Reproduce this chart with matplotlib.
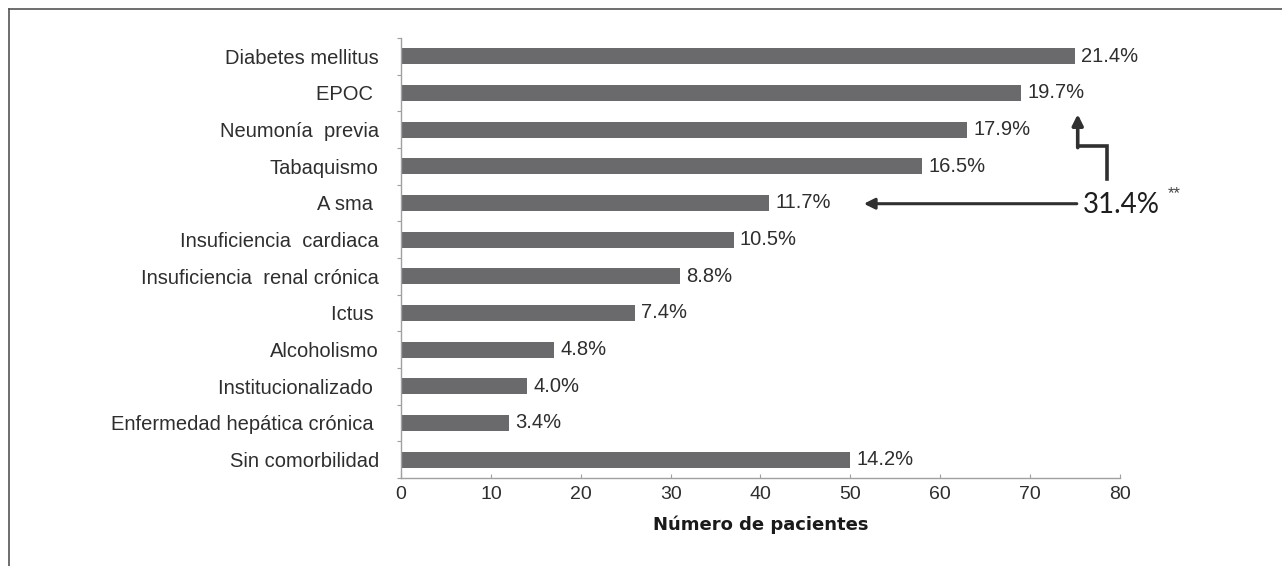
import matplotlib
matplotlib.use("Agg")
import matplotlib.pyplot as plt
from matplotlib.lines import Line2D

# Comorbidities, number of patients and share of the cohort
categories = ["Diabetes mellitus", "EPOC ", "Neumonía  previa", "Tabaquismo",
              "A sma ", "Insuficiencia  cardiaca", "Insuficiencia  renal crónica",
              "Ictus ", "Alcoholismo", "Institucionalizado ",
              "Enfermedad hepática crónica ", "Sin comorbilidad"]
patients = [75, 69, 63, 58, 41, 37, 31, 26, 17, 14, 12, 50]
percent_labels = ["21.4%", "19.7%", "17.9%", "16.5%", "11.7%", "10.5%",
                  "8.8%", "7.4%", "4.8%", "4.0%", "3.4%", "14.2%"]
x_ticks = [0, 10, 20, 30, 40, 50, 60, 70, 80]
combined_label = "31.4%"

bar_color = "#6a6a6c"
text_color = "#2e2e2e"
axis_color = "#a0a0a0"

fig = plt.figure(figsize=(12.82, 5.66), dpi=100)
ax = fig.add_axes([0.3128, 0.1555, 0.8736 - 0.3128, 0.9329 - 0.1555])

y = list(range(len(categories)))
ax.barh(y, patients, height=0.43, color=bar_color, edgecolor="none")

ax.set_xlim(0, 80)
ax.set_ylim(len(categories) - 0.55, -0.5)
ax.set_xticks(x_ticks)
ax.set_xticklabels([str(t) for t in x_ticks], fontsize=14, color=text_color,
                   family="Liberation Sans")
ax.set_yticks(y)
ax.set_yticklabels(categories, fontsize=14.5, color=text_color,
                   family="Liberation Sans")
ax.set_yticks([i + 0.5 for i in range(-1, len(categories))], minor=True)
ax.tick_params(axis="y", which="major", length=0, pad=16)
ax.tick_params(axis="y", which="minor", length=3, color=axis_color, width=0.8)
ax.tick_params(axis="x", length=3, color=axis_color, width=0.8, pad=6,
               direction="in")

for side in ["top", "right"]:
    ax.spines[side].set_visible(False)
for side in ["left", "bottom"]:
    ax.spines[side].set_color(axis_color)
    ax.spines[side].set_linestyle((0, (2, 1)))
    ax.spines[side].set_linewidth(1.0)

# value labels next to each bar
for yi, val, lab in zip(y, patients, percent_labels):
    ax.text(val + 0.7, yi, lab, va="center", ha="left", fontsize=14.5,
            color=text_color, family="Liberation Sans")

ax.set_xlabel("Número de pacientes", fontsize=13, fontweight="bold",
              family="DejaVu Sans", color="#1a1a1a", labelpad=9)

# combined share of EPOC + Asma, with the two pointer arrows
ax.text(75.9, 4.05, combined_label, va="center", ha="left", fontsize=20,
        color="#1e1e1e", family="Lato")
ax.text(85.3, 3.75, "**", va="center", ha="left", fontsize=12,
        color="#444444", family="Liberation Sans")
ax.annotate("", xy=(51.5, 4.02), xytext=(75.2, 4.02),
            arrowprops=dict(arrowstyle="-|>", color="#303030", lw=2.2,
                            mutation_scale=16, shrinkA=0, shrinkB=0),
            annotation_clip=False)
ax.add_line(Line2D([78.6, 78.6, 75.3], [3.35, 2.45, 2.45], color="#303030",
                   lw=2.6, clip_on=False, solid_joinstyle="miter"))
ax.annotate("", xy=(75.3, 1.58), xytext=(75.3, 2.49),
            arrowprops=dict(arrowstyle="-|>", color="#303030", lw=2.6,
                            mutation_scale=16, shrinkA=0, shrinkB=0),
            annotation_clip=False)

# page frame lines on the left and top
fig.add_artist(Line2D([9 / 1282, 9 / 1282], [0, 1 - 9 / 566],
                      transform=fig.transFigure, color="#555555", lw=1.2))
fig.add_artist(Line2D([9 / 1282, 1], [1 - 9 / 566, 1 - 9 / 566],
                      transform=fig.transFigure, color="#555555", lw=1.2))

fig.savefig("out.png", dpi=100, facecolor="white")
